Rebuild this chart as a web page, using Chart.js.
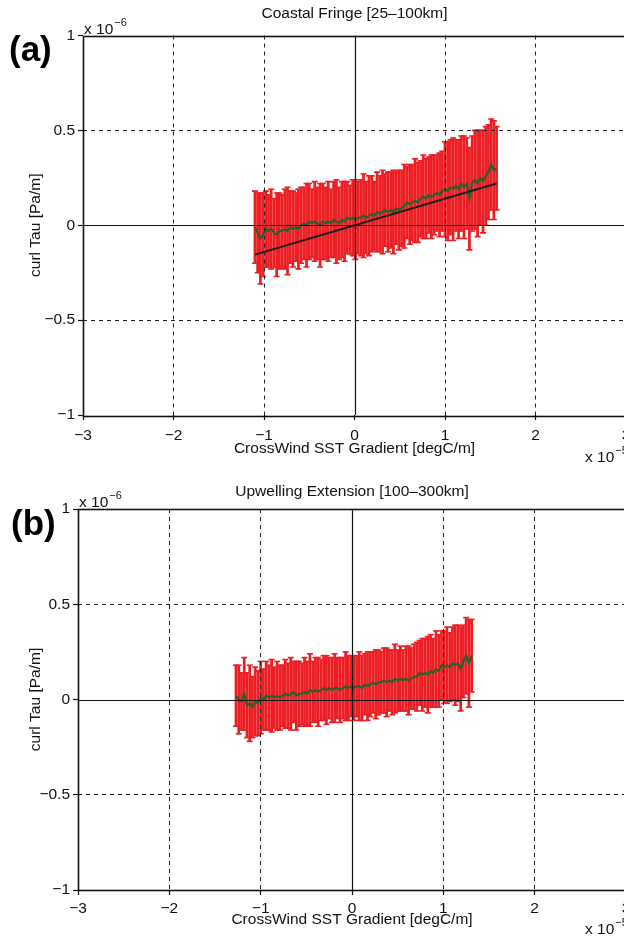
<!DOCTYPE html>
<html>
<head>
<meta charset="utf-8">
<script src="https://cdn.jsdelivr.net/npm/chart.js@4.4.1/dist/chart.umd.min.js"></script>
<style>
html,body{margin:0;padding:0;overflow:hidden;background:#fff;width:624px;height:936px;}
.wrap{position:absolute;left:0;width:640px;}
.plabel{position:absolute;font-family:"Liberation Sans",Arial,sans-serif;font-weight:bold;font-size:35px;color:#000;line-height:1;}
</style>
</head>
<body>
<div class="wrap" style="top:0;height:470px;"><canvas id="c1" width="640" height="470"></canvas></div>
<div class="wrap" style="top:470px;height:466px;"><canvas id="c2" width="640" height="466"></canvas></div>
<div class="plabel" style="left:9px;top:31px;">(a)</div>
<div class="plabel" style="left:11px;top:505px;">(b)</div>
<script>
// ---------- data (x in 1e-5 degC/m, y in 1e-6 Pa/m) ----------
const X_TICKS = [-3, -2, -1, 0, 1, 2, 3];
const X_TICK_LABELS = ['\u22123', '\u22122', '\u22121', '0', '1', '2', '3'];
const Y_TICKS = [-1, -0.5, 0, 0.5, 1];
const Y_TICK_LABELS = ['\u22121', '\u22120.5', '0', '0.5', '1'];

const titleA = 'Coastal Fringe [25\u2013100km]';
const titleB = 'Upwelling Extension [100\u2013300km]';
const xTitle = 'CrossWind SST Gradient [degC/m]';
const yTitle = 'curl Tau [Pa/m]';

// Panel (a)
const xA = [-1.10,-1.07,-1.04,-1.01,-0.98,-0.95,-0.92,-0.89,-0.86,-0.83,-0.80,-0.77,-0.74,-0.71,-0.68,-0.65,-0.62,-0.59,-0.56,-0.53,
  -0.50,-0.47,-0.44,-0.41,-0.38,-0.35,-0.32,-0.29,-0.26,-0.23,-0.20,-0.17,-0.14,-0.11,-0.08,-0.05,-0.02,0.01,0.04,0.07,
  0.10,0.13,0.16,0.19,0.22,0.25,0.28,0.31,0.34,0.37,0.40,0.43,0.46,0.49,0.52,0.55,0.58,0.61,0.64,0.67,
  0.70,0.73,0.76,0.79,0.82,0.85,0.88,0.91,0.94,0.97,1.00,1.03,1.06,1.09,1.12,1.15,1.18,1.21,1.24,1.27,
  1.30,1.33,1.36,1.39,1.42,1.45,1.48,1.51,1.54,1.57];
const meanA = [-0.01,-0.04,-0.07,-0.05,-0.02,-0.03,-0.02,-0.04,-0.05,-0.03,-0.03,-0.02,-0.03,-0.01,-0.02,-0.01,-0.02,0.00,0.01,0.00,
  0.02,0.01,0.02,0.01,0.00,0.02,0.01,0.02,0.01,0.03,0.02,0.01,0.03,0.02,0.04,0.03,0.04,0.03,0.04,0.04,
  0.05,0.04,0.05,0.06,0.05,0.07,0.06,0.07,0.08,0.07,0.08,0.07,0.09,0.08,0.09,0.10,0.12,0.11,0.12,0.13,
  0.12,0.14,0.15,0.14,0.16,0.15,0.16,0.17,0.16,0.18,0.19,0.18,0.20,0.19,0.21,0.19,0.22,0.20,0.22,0.14,
  0.22,0.24,0.22,0.25,0.23,0.26,0.28,0.32,0.29,0.30];
const errA = [0.19,0.21,0.24,0.22,0.20,0.19,0.21,0.18,0.22,0.20,0.19,0.21,0.23,0.19,0.20,0.18,0.21,0.20,0.19,0.22,
  0.20,0.18,0.21,0.19,0.22,0.20,0.19,0.21,0.18,0.20,0.22,0.19,0.20,0.21,0.19,0.18,0.20,0.21,0.19,0.20,
  0.22,0.19,0.21,0.20,0.18,0.21,0.20,0.22,0.19,0.21,0.20,0.22,0.19,0.21,0.20,0.22,0.19,0.21,0.20,0.22,
  0.21,0.20,0.22,0.21,0.20,0.22,0.21,0.20,0.22,0.21,0.25,0.26,0.25,0.27,0.24,0.26,0.25,0.27,0.24,0.27,
  0.25,0.26,0.28,0.25,0.27,0.26,0.25,0.24,0.26,0.22];
const fitXA = [-1.10, 1.57];
const fitYA = [-0.155, 0.22];

// Panel (b)
const xB = [-1.27,-1.24,-1.21,-1.18,-1.15,-1.12,-1.09,-1.06,-1.03,-1.00,-0.97,-0.94,-0.91,-0.88,-0.85,-0.82,-0.79,-0.76,-0.73,-0.70,
  -0.67,-0.64,-0.61,-0.58,-0.55,-0.52,-0.49,-0.46,-0.43,-0.40,-0.37,-0.34,-0.31,-0.28,-0.25,-0.22,-0.19,-0.16,-0.13,-0.10,
  -0.07,-0.04,-0.01,0.02,0.05,0.08,0.11,0.14,0.17,0.20,0.23,0.26,0.29,0.32,0.35,0.38,0.41,0.44,0.47,0.50,
  0.53,0.56,0.59,0.62,0.65,0.68,0.71,0.74,0.77,0.80,0.83,0.86,0.89,0.92,0.95,0.98,1.01,1.04,1.07,1.10,
  1.13,1.16,1.19,1.22,1.25,1.28,1.31];
const meanB = [0.02,0.00,-0.01,0.03,-0.03,-0.02,-0.04,-0.01,-0.02,0.01,0.00,0.02,0.01,0.02,0.01,0.02,0.01,0.02,0.03,0.02,
  0.03,0.04,0.02,0.03,0.03,0.04,0.03,0.05,0.04,0.05,0.04,0.05,0.06,0.05,0.06,0.05,0.06,0.06,0.05,0.06,
  0.07,0.06,0.07,0.06,0.07,0.07,0.06,0.08,0.07,0.08,0.09,0.08,0.09,0.09,0.10,0.09,0.10,0.09,0.11,0.10,
  0.11,0.10,0.11,0.10,0.11,0.12,0.12,0.14,0.13,0.14,0.13,0.15,0.14,0.16,0.15,0.18,0.17,0.18,0.17,0.19,
  0.18,0.19,0.16,0.20,0.23,0.19,0.23];
const errB = [0.16,0.18,0.15,0.19,0.17,0.20,0.16,0.18,0.17,0.19,0.16,0.18,0.17,0.19,0.16,0.18,0.17,0.16,0.18,0.17,
  0.19,0.16,0.18,0.17,0.16,0.18,0.17,0.19,0.16,0.17,0.18,0.16,0.17,0.18,0.16,0.17,0.18,0.16,0.17,0.16,
  0.18,0.17,0.16,0.17,0.16,0.18,0.17,0.16,0.18,0.17,0.16,0.18,0.17,0.16,0.17,0.18,0.16,0.17,0.18,0.16,
  0.17,0.16,0.17,0.18,0.16,0.17,0.18,0.17,0.19,0.18,0.20,0.19,0.18,0.20,0.19,0.18,0.19,0.20,0.18,0.19,
  0.21,0.20,0.22,0.19,0.20,0.23,0.19];

// ---------- styling ----------
const FONT = '"Liberation Sans", Arial, sans-serif';
const FS = 15.5;
const RED = 'rgb(236,30,36)';
const GREEN = 'rgb(28,98,42)';

function framePlugin(expo) {
  return {
    id: 'frame',
    afterDraw(chart) {
      const {ctx, chartArea: a, scales: {x, y}} = chart;
      ctx.save();
      ctx.strokeStyle = '#111';
      ctx.lineWidth = 1.2;
      const x0 = Math.round(x.getPixelForValue(0)) + 0.5;
      const y0 = Math.round(y.getPixelForValue(0)) + 0.5;
      ctx.beginPath();
      ctx.moveTo(x0, a.top); ctx.lineTo(x0, a.bottom);
      ctx.moveTo(a.left, y0); ctx.lineTo(a.right, y0);
      ctx.stroke();
      ctx.lineWidth = 1.6;
      ctx.strokeRect(Math.round(a.left) + 0.5, Math.round(a.top) + 0.5, Math.round(a.width), Math.round(a.height));
      // exponent labels
      ctx.fillStyle = '#111';
      ctx.textBaseline = 'alphabetic';
      ctx.textAlign = 'left';
      ctx.font = FS + 'px ' + FONT;
      let w = ctx.measureText('x 10').width;
      ctx.fillText('x 10', a.left + 1, a.top - 2);
      ctx.font = '11px ' + FONT;
      ctx.fillText('\u2212' + expo.y, a.left + 2 + w, a.top - 10);
      ctx.font = FS + 'px ' + FONT;
      ctx.fillText('x 10', 585, a.bottom + expo.xOff);
      ctx.font = '11px ' + FONT;
      ctx.fillText('\u2212' + expo.x, 586 + w, a.bottom + expo.xOff - 8);
      ctx.restore();
    }
  };
}

function makeChart(id, xs, mean, err, fitX, fitY, title, lay) {
  const bars = xs.map((v, i) => ({x: v, y: [mean[i] - err[i], mean[i] + err[i]]}));
  const caps = [];
  xs.forEach((v, i) => { caps.push({x: v, y: mean[i] - err[i]}); caps.push({x: v, y: mean[i] + err[i]}); });
  const datasets = [];
  if (fitX) {
    datasets.push({type: 'line', data: fitX.map((v, i) => ({x: v, y: fitY[i]})), borderColor: '#1a1a1a', borderWidth: 2, pointRadius: 0, order: 0});
  }
  datasets.push({type: 'line', data: xs.map((v, i) => ({x: v, y: mean[i]})), borderColor: GREEN, borderWidth: 2, pointRadius: 0, tension: 0, order: 1});
  datasets.push({type: 'scatter', data: caps, pointStyle: 'line', radius: 3, borderColor: RED, borderWidth: 1.6, order: 2});
  datasets.push({type: 'bar', data: bars, backgroundColor: RED, borderWidth: 0, barThickness: 2.1, order: 3});

  const gridColor = (c) => {
    const v = c.tick ? c.tick.value : null;
    return (v === 0 || v === -3 || v === 3 || v === -1 && c.scale.axis === 'y' || v === 1 && c.scale.axis === 'y') ? 'rgba(0,0,0,0)' : '#222';
  };
  return new Chart(document.getElementById(id), {
    type: 'bar',
    data: {datasets},
    options: {
      responsive: false,
      animation: false,
      events: [],
      layout: {padding: {left: 0, right: lay.right, top: 0, bottom: 0}},
      plugins: {
        legend: {display: false},
        tooltip: {enabled: false},
        title: {display: true, text: title, fullSize: false, color: '#111',
          font: {family: FONT, size: FS, weight: 'normal'}, padding: {top: lay.tTop, bottom: lay.tBot}}
      },
      scales: {
        x: {
          type: 'linear', min: -3, max: 3, offset: false,
          afterBuildTicks: (s) => { s.ticks = X_TICKS.map(v => ({value: v})); },
          afterFit: (s) => { s.height = lay.xH; },
          ticks: {color: '#111', font: {family: FONT, size: FS}, padding: lay.xPad, maxRotation: 0, autoSkip: false,
            callback: (v) => X_TICK_LABELS[X_TICKS.indexOf(v)]},
          grid: {offset: false, color: gridColor, lineWidth: 1, drawTicks: true, tickLength: 5, tickColor: '#111', tickWidth: 1.2, tickBorderDash: [], z: 1},
          border: {display: false, dash: [4, 4]},
          title: {display: true, text: xTitle, color: '#111', font: {family: FONT, size: FS}, padding: {top: 0, bottom: lay.xtPad}}
        },
        y: {
          type: 'linear', min: -1, max: 1,
          afterBuildTicks: (s) => { s.ticks = Y_TICKS.map(v => ({value: v})); },
          afterFit: (s) => { s.width = lay.yW; },
          ticks: {color: '#111', font: {family: FONT, size: FS}, padding: 3,
            callback: (v) => Y_TICK_LABELS[Y_TICKS.indexOf(v)]},
          grid: {color: gridColor, lineWidth: 1, drawTicks: true, tickLength: 5, tickColor: '#111', tickWidth: 1.2, tickBorderDash: [], z: 1},
          border: {display: false, dash: [4, 4]},
          title: {display: true, text: yTitle, color: '#111', font: {family: FONT, size: FS}, padding: {top: 26, bottom: 0}}
        }
      }
    },
    plugins: [framePlugin(lay.expo)]
  });
}

makeChart('c1', xA, meanA, errA, fitXA, fitYA, titleA,
  {right: 14, tTop: 4.5, tBot: 12.4, xH: 55, xPad: 6, xtPad: 11.7, yW: 83, expo: {x: 5, y: 6, xOff: 47}});
makeChart('c2', xB, meanB, errB, null, null, titleB,
  {right: 14, tTop: 12.5, tBot: 7.9, xH: 46, xPad: 4, xtPad: 6.7, yW: 78, expo: {x: 5, y: 6, xOff: 44}});
</script>
</body>
</html>
